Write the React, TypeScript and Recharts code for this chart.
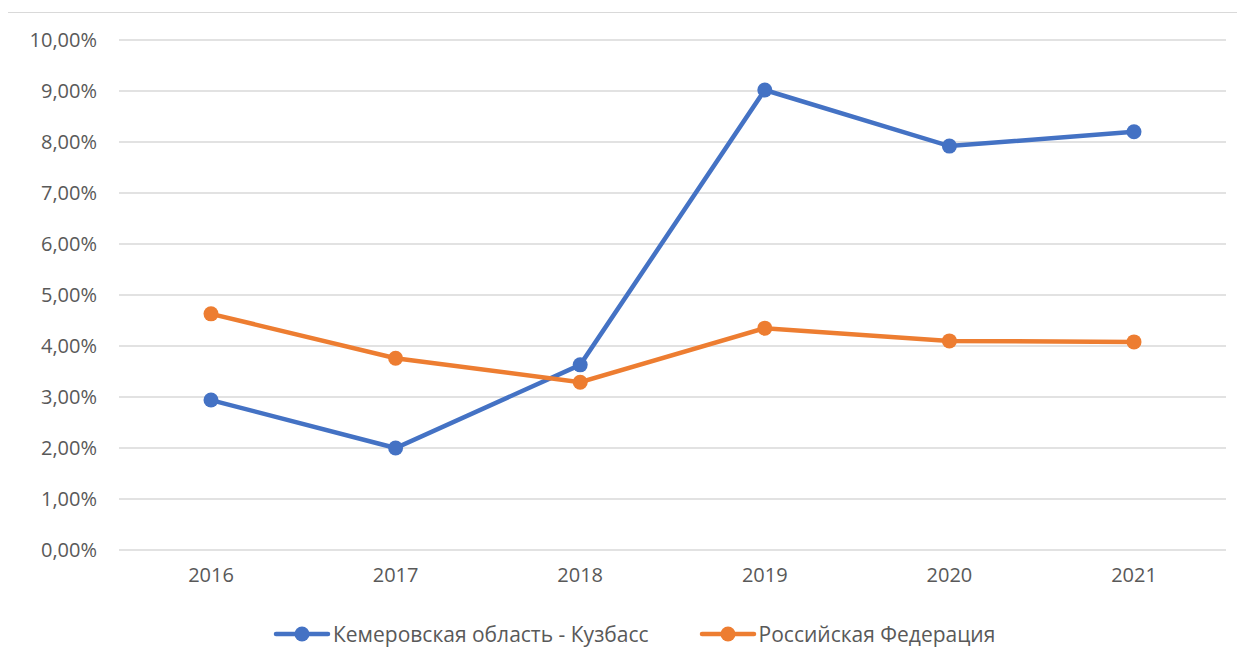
import { LineChart, Line, XAxis, YAxis, CartesianGrid, Legend } from "recharts";

const years = ["2016", "2017", "2018", "2019", "2020", "2021"];
const kuzbass = [0.0294, 0.0200, 0.0363, 0.0902, 0.0792, 0.0820];
const russia = [0.0463, 0.0376, 0.0329, 0.0435, 0.0410, 0.0408];
const yTicks = [0, 0.01, 0.02, 0.03, 0.04, 0.05, 0.06, 0.07, 0.08, 0.09, 0.1];

const seriesNames = ["Кемеровская область - Кузбасс", "Российская Федерация"];
const colors = ["#4472C4", "#ED7D31"];

const data = years.map((year, i) => ({ year, kuzbass: kuzbass[i], russia: russia[i] }));

const fmtPct = (v: number) => (v * 100).toFixed(2).replace(".", ",") + "%";

const font = "'Open Sans', sans-serif";

function LegendContent() {
  return (
    <div style={{ display: "flex", justifyContent: "flex-start", alignItems: "center", paddingLeft: 273, height: 24, lineHeight: "24px", fontFamily: font, fontSize: 21, color: "#595959" }}>
      {seriesNames.map((name, i) => (
        <div key={name} style={{ display: "flex", alignItems: "center", marginRight: i === 0 ? 50 : 0 }}>
          <svg width={58} height={18} style={{ marginRight: 2 }}>
            <line x1={3} y1={9} x2={55} y2={9} stroke={colors[i]} strokeWidth={4.5} strokeLinecap="round" />
            <circle cx={29} cy={9} r={7.5} fill={colors[i]} />
          </svg>
          <span>{name}</span>
        </div>
      ))}
    </div>
  );
}

export default function App() {
  return (
    <div style={{ position: "relative", margin: -8, width: 1245, height: 666, overflow: "hidden", background: "#fff" }}>
      <div style={{ position: "absolute", left: 7, top: 12, width: 1400, height: 800, border: "1px solid #d9d9d9", boxSizing: "border-box" }} />
      <div style={{ position: "absolute", left: 0, top: 0 }}>
        <LineChart width={1245} height={666} data={data} margin={{ top: 40, right: 19, left: 0, bottom: 62 }}>
          <CartesianGrid vertical={false} stroke="#d9d9d9" strokeWidth={1.5} />
          <XAxis
            dataKey="year"
            axisLine={false}
            tickLine={false}
            tickMargin={12}
            height={30}
            padding={{ left: 92, right: 92 }}
            tick={{ fill: "#595959", fontSize: 20, fontFamily: font }}
          />
          <YAxis
            domain={[0, 0.1]}
            ticks={yTicks}
            tickFormatter={fmtPct}
            width={119}
            axisLine={false}
            tickLine={false}
            tickMargin={16}
            tick={{ fill: "#595959", fontSize: 20, fontFamily: font }}
          />
          <Legend content={<LegendContent />} wrapperStyle={{ position: "absolute", top: 622, left: 0, width: 1245, bottom: "auto" }} />
          <Line dataKey="kuzbass" name={seriesNames[0]} stroke={colors[0]} strokeWidth={4.5} dot={{ r: 7.5, fill: colors[0], stroke: colors[0], strokeWidth: 0 }} isAnimationActive={false} />
          <Line dataKey="russia" name={seriesNames[1]} stroke={colors[1]} strokeWidth={4.5} dot={{ r: 7.5, fill: colors[1], stroke: colors[1], strokeWidth: 0 }} isAnimationActive={false} />
        </LineChart>
      </div>
    </div>
  );
}
